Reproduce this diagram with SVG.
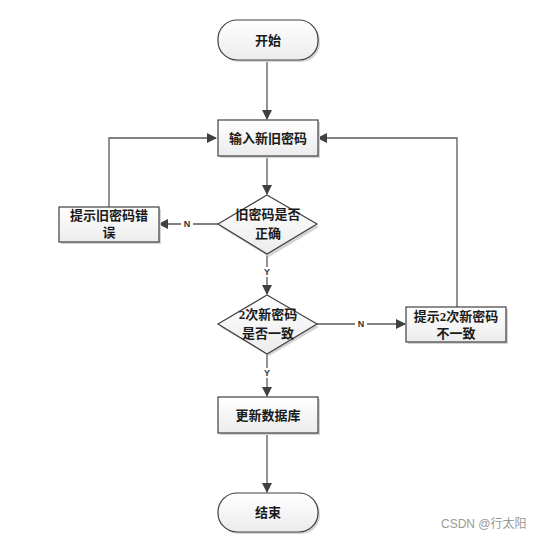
<svg xmlns="http://www.w3.org/2000/svg" width="555" height="541" viewBox="0 0 555 541">
<defs>
<linearGradient id="g" x1="0" y1="0" x2="0" y2="1">
<stop offset="0" stop-color="#ffffff"/>
<stop offset="1" stop-color="#ececec"/>
</linearGradient>
<marker id="ah" markerWidth="10" markerHeight="10" refX="9" refY="5" orient="auto" markerUnits="userSpaceOnUse">
<path d="M0,0 L10,5 L0,10 Z" fill="#404040"/>
</marker>
</defs>
<style>
.shape{fill:url(#g);stroke:#404040;stroke-width:1.2}
.shadow{fill:#d4d4d4}
.t{font-family:"Liberation Serif","Noto Sans CJK SC",serif;font-size:13px;font-weight:bold;fill:#1a1a1a;text-anchor:middle}
.c{fill:none;stroke:#595959;stroke-width:1.3}
.lab{font-family:"Liberation Sans",sans-serif;font-size:9px;font-weight:bold;fill:#333;text-anchor:middle}
.wm{font-family:"Liberation Sans","Noto Sans CJK SC",sans-serif;font-size:12px;fill:#999;text-anchor:start}
</style>
<rect width="555" height="541" fill="#ffffff"/>
<g id="connectors">
<path class="c" d="M267,60 L267,119" marker-end="url(#ah)"/>
<path class="c" d="M267,156 L267,194" marker-end="url(#ah)"/>
<path class="c" d="M218,224 L159,224" marker-end="url(#ah)"/>
<path class="c" d="M109,207 L109,138 L216,138" marker-end="url(#ah)"/>
<path class="c" d="M267,255 L267,294" marker-end="url(#ah)"/>
<path class="c" d="M317,324 L405,324" marker-end="url(#ah)"/>
<path class="c" d="M457,307 L457,138 L318,138" marker-end="url(#ah)"/>
<path class="c" d="M267,354 L267,396" marker-end="url(#ah)"/>
<path class="c" d="M267,434 L267,492" marker-end="url(#ah)"/>
<rect x="181" y="219" width="12" height="10" fill="#fff"/>
<text class="lab" x="187" y="227">N</text>
<rect x="262" y="267" width="10" height="10" fill="#fff"/>
<text class="lab" x="267" y="275">Y</text>
<rect x="355" y="319" width="12" height="10" fill="#fff"/>
<text class="lab" x="361" y="327">N</text>
<rect x="262" y="368" width="10" height="10" fill="#fff"/>
<text class="lab" x="267" y="376">Y</text>
</g>
<g id="start">
<rect class="shadow" x="220" y="22" width="100" height="40" rx="19" ry="19"/>
<rect class="shape" x="218" y="20" width="100" height="40" rx="19" ry="19"/>
<text class="t" x="268" y="45">开始</text>
</g>
<g id="input">
<rect class="shadow" x="220" y="122" width="100" height="36"/>
<rect class="shape" x="218" y="120" width="100" height="36"/>
<text class="t" x="268" y="143">输入新旧密码</text>
</g>
<g id="check-old">
<path class="shadow" d="M269,197 L319,227 L269,257 L220,227 Z"/>
<path class="shape" d="M267,195 L317,224 L267,254 L218,224 Z"/>
<text class="t" x="268" y="219">旧密码是否</text>
<text class="t" x="268" y="238">正确</text>
</g>
<g id="old-error">
<rect class="shadow" x="61" y="209" width="100" height="35"/>
<rect class="shape" x="59" y="207" width="100" height="35"/>
<text class="t" x="109" y="220">提示旧密码错</text>
<text class="t" x="109" y="237">误</text>
</g>
<g id="check-new">
<path class="shadow" d="M269,297 L319,327 L269,356 L220,327 Z"/>
<path class="shape" d="M267,295 L317,324 L267,354 L218,324 Z"/>
<text class="t" x="268" y="319">2次新密码</text>
<text class="t" x="268" y="338">是否一致</text>
</g>
<g id="new-error">
<rect class="shadow" x="408" y="309" width="100" height="35"/>
<rect class="shape" x="406" y="307" width="100" height="35"/>
<text class="t" x="456" y="321">提示2次新密码</text>
<text class="t" x="456" y="338">不一致</text>
</g>
<g id="update">
<rect class="shadow" x="220" y="399" width="100" height="36"/>
<rect class="shape" x="218" y="397" width="100" height="36"/>
<text class="t" x="268" y="420">更新数据库</text>
</g>
<g id="end">
<rect class="shadow" x="220" y="495" width="100" height="39" rx="19" ry="19"/>
<rect class="shape" x="218" y="493" width="100" height="39" rx="19" ry="19"/>
<text class="t" x="268" y="517">结束</text>
</g>
<text class="wm" x="441" y="528">CSDN @行太阳</text>
</svg>
